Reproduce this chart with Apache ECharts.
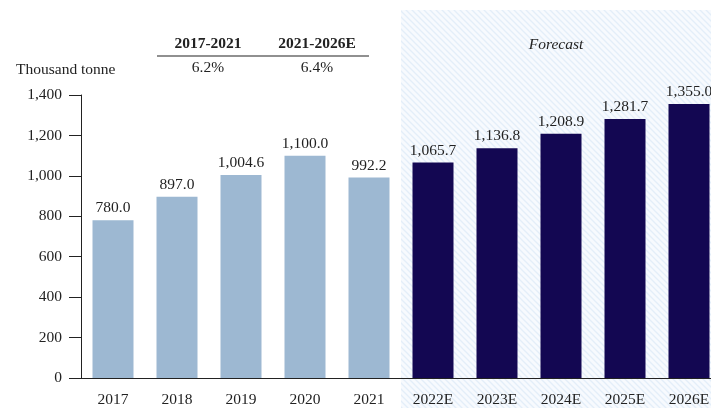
<!DOCTYPE html>
<html>
<head>
<meta charset="utf-8">
<script src="https://cdn.jsdelivr.net/npm/echarts@6/dist/echarts.min.js"></script>
<style>
  html, body { margin: 0; padding: 0; background: #fff; overflow: hidden; }
  #chart { width: 721px; height: 408px; }
</style>
</head>
<body>
<div id="chart"></div>
<script>
const years = ['2017', '2018', '2019', '2020', '2021', '2022E', '2023E', '2024E', '2025E', '2026E']
const volumes = [780.0, 897.0, 1004.6, 1100.0, 992.2, 1065.7, 1136.8, 1208.9, 1281.7, 1355.0]
const firstForecast = 5
const cagrPeriods = ['2017-2021', '2021-2026E']
const cagrValues = ['6.2%', '6.4%']

const FONT = 'Liberation Serif'
const FS = 15.5
const chart = echarts.init(document.getElementById('chart'))

// striped fill for the forecast band
function stripes() {
  const c = document.createElement('canvas')
  c.width = 6
  c.height = 6
  const ctx = c.getContext('2d')
  ctx.fillStyle = '#f7fafe'
  ctx.fillRect(0, 0, 6, 6)
  ctx.strokeStyle = '#e3eef9'
  ctx.lineWidth = 1.3
  ctx.beginPath()
  ctx.moveTo(-1, -1); ctx.lineTo(7, 7)
  ctx.moveTo(-4, 2); ctx.lineTo(2, 8)
  ctx.moveTo(2, -4); ctx.lineTo(8, 2)
  ctx.stroke()
  return c
}

const fmt = v => v.toLocaleString('en-US', { minimumFractionDigits: 1, maximumFractionDigits: 1 })

chart.setOption({
  animation: false,
  grid: { left: 81, right: 0, top: 95, bottom: 29 },
  xAxis: {
    type: 'category',
    data: years,
    axisTick: { show: false },
    axisLine: { lineStyle: { color: '#222', width: 1 } },
    axisLabel: { color: '#222', fontFamily: FONT, fontSize: FS, margin: 14 },
  },
  yAxis: {
    type: 'value',
    min: 0,
    max: 1400,
    interval: 200,
    splitLine: { show: false },
    axisLine: { show: true, lineStyle: { color: '#222', width: 1 } },
    axisTick: { show: true, inside: false, length: 12, lineStyle: { color: '#222' } },
    axisLabel: {
      color: '#222', fontFamily: FONT, fontSize: FS, margin: 19,
      formatter: v => v.toLocaleString('en-US'),
    },
  },
  series: [{
    type: 'bar',
    barWidth: 41,
    z: 5,
    data: volumes.map((v, i) => ({
      value: v,
      itemStyle: { color: i < firstForecast ? '#9db8d2' : '#130752' },
    })),
    label: {
      show: true,
      position: 'top',
      distance: 4,
      color: '#222',
      fontFamily: FONT,
      fontSize: FS,
      formatter: p => fmt(p.value),
    },
  }],
})

// forecast band + CAGR header, placed from axis positions
const xStep = chart.convertToPixel({ xAxisIndex: 0 }, years[1]) - chart.convertToPixel({ xAxisIndex: 0 }, years[0])
const bandLeft = chart.convertToPixel({ xAxisIndex: 0 }, years[firstForecast]) - xStep / 2
const headX = [208, 317]

chart.setOption({
  graphic: [
    {
      type: 'rect', z: -10, silent: true,
      shape: { x: bandLeft, y: 10, width: 721 - bandLeft, height: 398 },
      style: { fill: { image: stripes(), repeat: 'repeat' } },
    },
    {
      type: 'text', z: 10, x: 556, y: 45,
      style: { text: 'Forecast', font: `italic ${FS}px "${FONT}"`, fill: '#222', align: 'center', verticalAlign: 'middle' },
    },
    {
      type: 'text', z: 10, x: 16, y: 70,
      style: { text: 'Thousand tonne', font: `${FS}px "${FONT}"`, fill: '#222', verticalAlign: 'middle' },
    },
    {
      type: 'line', z: 10,
      shape: { x1: 157, y1: 56, x2: 369, y2: 56 },
      style: { stroke: '#222', lineWidth: 1.2 },
    },
    ...cagrPeriods.map((t, i) => ({
      type: 'text', z: 10, x: headX[i], y: 44,
      style: { text: t, font: `bold ${FS}px "${FONT}"`, fill: '#222', align: 'center', verticalAlign: 'middle' },
    })),
    ...cagrValues.map((t, i) => ({
      type: 'text', z: 10, x: headX[i], y: 68,
      style: { text: t, font: `${FS}px "${FONT}"`, fill: '#222', align: 'center', verticalAlign: 'middle' },
    })),
  ],
})
</script>
</body>
</html>
